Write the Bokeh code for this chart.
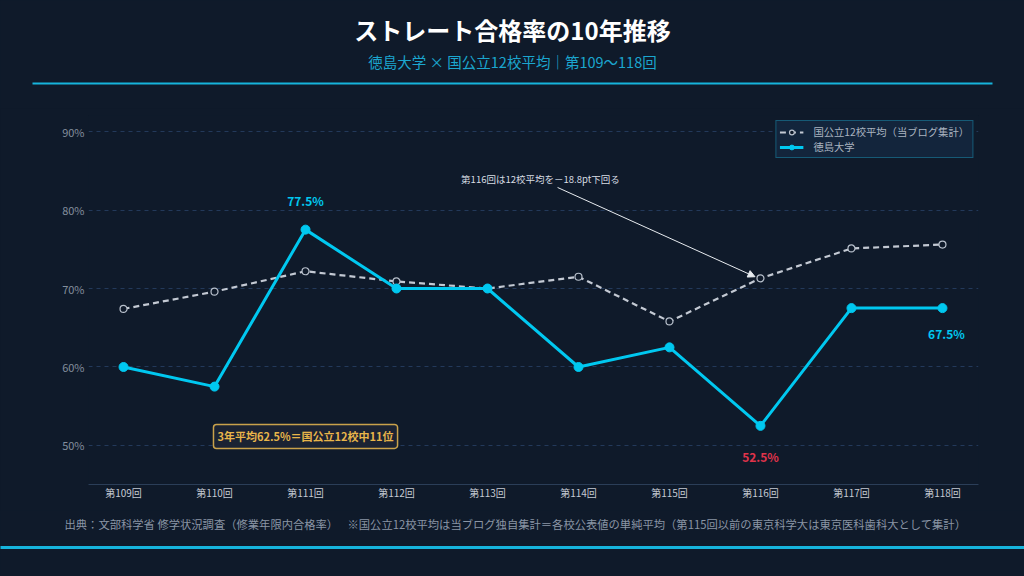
from bokeh.plotting import figure
from bokeh.models import (Range1d, FixedTicker, PrintfTickFormatter, Legend,
                          LegendItem, Label, Arrow, NormalHead)
from bokeh.layouts import column
from bokeh.embed import file_html
from bokeh.resources import INLINE
from bokeh.core.properties import value

# ---------------- data ----------------
rounds = [109, 110, 111, 112, 113, 114, 115, 116, 117, 118]
round_labels = ["第109回", "第110回", "第111回", "第112回", "第113回",
                "第114回", "第115回", "第116回", "第117回", "第118回"]
avg12 = [67.4, 69.6, 72.2, 70.9, 70.0, 71.5, 65.8, 71.3, 75.1, 75.6]
tokushima = [60.0, 57.5, 77.5, 70.0, 70.0, 60.0, 62.5, 52.5, 67.5, 67.5]
y_ticks = [50, 60, 70, 80, 90]

title_text = "ストレート合格率の10年推移"
subtitle_text = "徳島大学 × 国公立12校平均｜第109〜118回"
legend_labels = ["国公立12校平均（当ブログ集計）", "徳島大学"]
source_text = "出典：文部科学省 修学状況調査（修業年限内合格率）"
note_text = "※国公立12校平均は当ブログ独自集計＝各校公表値の単純平均（第115回以前の東京科学大は東京医科歯科大として集計）"

# ---------------- style ----------------
BG = "#0f1a2a"
CYAN = "#00c8f0"
LINE_CYAN = "#16b4dc"
GRAY = "#c3c9d3"
RED = "#e0334a"
GOLD = "#e8b54a"
FONT = "Noto Sans CJK JP"
W = 1024
HEAD_H, MAIN_H, FOOT_H = 108, 402, 66


def blank(h):
    f = figure(width=W, height=h, x_range=Range1d(0, W), y_range=Range1d(h, 0),
               toolbar_location=None, output_backend="svg",
               x_axis_type=None, y_axis_type=None, min_border=0,
               background_fill_color=BG, border_fill_color=BG,
               outline_line_color=None, frame_align=False)
    f.grid.visible = False
    return f


# ---------------- header ----------------
head = blank(HEAD_H)
head.text(x=[W / 2], y=[29], text=[title_text], text_font=value(FONT),
          text_font_size="24px", text_font_style="bold", text_color="#ffffff",
          text_align="center", text_baseline="middle")
head.text(x=[W / 2], y=[61], text=[subtitle_text], text_font=value(FONT),
          text_font_size="14.5px", text_color="#1ba6cf",
          text_align="center", text_baseline="middle")
head.segment(x0=[32], y0=[83], x1=[992], y1=[83], line_color=LINE_CYAN, line_width=2)

# ---------------- main chart ----------------
p = figure(width=W, height=MAIN_H, x_range=Range1d(108.615, 118.396),
           y_range=Range1d(45.03, 92.04), toolbar_location=None,
           output_backend="svg", min_border_left=88, min_border_right=46,
           min_border_top=7, min_border_bottom=26,
           background_fill_color=BG, border_fill_color=BG,
           outline_line_color=None, frame_align=False)

p.xgrid.visible = False
p.ygrid.grid_line_color = "#23395a"
p.ygrid.grid_line_dash = "4 4"
p.ygrid.grid_line_width = 1

p.xaxis.ticker = FixedTicker(ticks=rounds)
p.xaxis.major_label_overrides = {r: l for r, l in zip(rounds, round_labels)}
p.xaxis.axis_line_color = "#2b3e58"
p.xaxis.major_tick_line_color = None
p.xaxis.major_tick_out = 0
p.xaxis.major_tick_in = 0
p.xaxis.minor_tick_line_color = None
p.xaxis.minor_tick_out = 0
p.xaxis.major_label_text_color = "#c5cad3"
p.xaxis.major_label_text_font = FONT
p.xaxis.major_label_text_font_size = "10px"
p.xaxis.major_label_standoff = 0

p.yaxis.ticker = FixedTicker(ticks=y_ticks)
p.yaxis.formatter = PrintfTickFormatter(format="%d%%")
p.yaxis.axis_line_color = None
p.yaxis.major_tick_line_color = None
p.yaxis.major_tick_out = 0
p.yaxis.major_tick_in = 0
p.yaxis.minor_tick_line_color = None
p.yaxis.minor_tick_out = 0
p.yaxis.major_label_text_color = "#838e9d"
p.yaxis.major_label_text_font = FONT
p.yaxis.major_label_text_font_size = "11px"
p.yaxis.major_label_standoff = 4

avg_line = p.line(rounds, avg12, line_color=GRAY, line_width=2.2, line_dash="6 4")
avg_pts = p.scatter(rounds, avg12, size=7, marker="circle", fill_color=BG,
                    line_color="#b8c0cc", line_width=1.2)
tk_line = p.line(rounds, tokushima, line_color=CYAN, line_width=3)
tk_pts = p.scatter(rounds, tokushima, size=9, marker="circle", fill_color=CYAN,
                   line_color=CYAN)

# value labels
i_max = tokushima.index(max(tokushima))
i_min = tokushima.index(min(tokushima))
i_last = len(rounds) - 1
p.text(x=[rounds[i_max]], y=[tokushima[i_max]], text=[f"{tokushima[i_max]:.1f}%"],
       y_offset=-29, text_font=value(FONT), text_font_size="12px",
       text_font_style="bold", text_color=CYAN, text_align="center",
       text_baseline="middle")
p.text(x=[rounds[i_last]], y=[tokushima[i_last]], text=[f"{tokushima[i_last]:.1f}%"],
       y_offset=25, x_offset=4, text_font=value(FONT), text_font_size="12px",
       text_font_style="bold", text_color=CYAN, text_align="center",
       text_baseline="middle")
p.text(x=[rounds[i_min]], y=[tokushima[i_min]], text=[f"{tokushima[i_min]:.1f}%"],
       y_offset=31, text_font=value(FONT), text_font_size="12px",
       text_font_style="bold", text_color=RED, text_align="center",
       text_baseline="middle")

# annotation arrow for 116
gap = avg12[i_min] - tokushima[i_min]
p.add_layout(Arrow(end=NormalHead(size=7, fill_color="#e8ecf0", line_color="#e8ecf0"),
                   x_start=113.77, y_start=82.87,
                   x_end=rounds[i_min] - 0.06, y_end=avg12[i_min] + 0.2,
                   line_color="#e8ecf0", line_width=1))
p.add_layout(Label(x=112.71, y=84.0,
                   text=f"第{rounds[i_min]}回は12校平均を－{gap:.1f}pt下回る",
                   text_font=FONT, text_font_size="9.5px", text_color="#d8dde3",
                   text_align="left", text_baseline="middle"))

# 3-year average box
avg3 = sum(tokushima[-3:]) / 3
p.add_layout(Label(x=111.0, y=51.15, text=f"3年平均{avg3:.1f}%＝国公立12校中11位",
                   text_font=FONT, text_font_size="11px", text_font_style="bold",
                   text_color=GOLD, text_align="center", text_baseline="middle",
                   background_fill_color="#1b2333", background_fill_alpha=1,
                   border_line_color="#c9a24b", border_line_width=1.5,
                   padding=4, border_radius=3))

legend = Legend(items=[LegendItem(label=legend_labels[0], renderers=[avg_line, avg_pts]),
                       LegendItem(label=legend_labels[1], renderers=[tk_line, tk_pts])],
                location="top_right")
legend.border_line_color = "#1a8fb0"
legend.border_line_width = 1
legend.background_fill_color = "#13253c"
legend.background_fill_alpha = 1
legend.label_text_color = "#aab4c0"
legend.label_text_font = FONT
legend.label_text_font_size = "10.3px"
legend.glyph_width = 24
legend.glyph_height = 12
legend.label_height = 12
legend.spacing = 0
legend.padding = 3
legend.margin = 5
legend.label_standoff = 10
p.add_layout(legend)

# ---------------- footer ----------------
foot = blank(FOOT_H)
foot.text(x=[64], y=[13], text=[source_text], text_font=value(FONT),
          text_font_size="11.3px", text_color="#8a95a5",
          text_align="left", text_baseline="middle")
foot.text(x=[347], y=[13], text=[note_text], text_font=value(FONT),
          text_font_size="11.3px", text_color="#8a95a5",
          text_align="left", text_baseline="middle")
foot.segment(x0=[-10], y0=[37], x1=[W + 10], y1=[37], line_color=LINE_CYAN, line_width=3)

layout = column(head, p, foot, spacing=0)

html = file_html(layout, INLINE)
html = html.replace("</head>", "<style>html,body{margin:0;background:%s;}</style></head>" % BG, 1)
open("out.html", "w").write(html)
